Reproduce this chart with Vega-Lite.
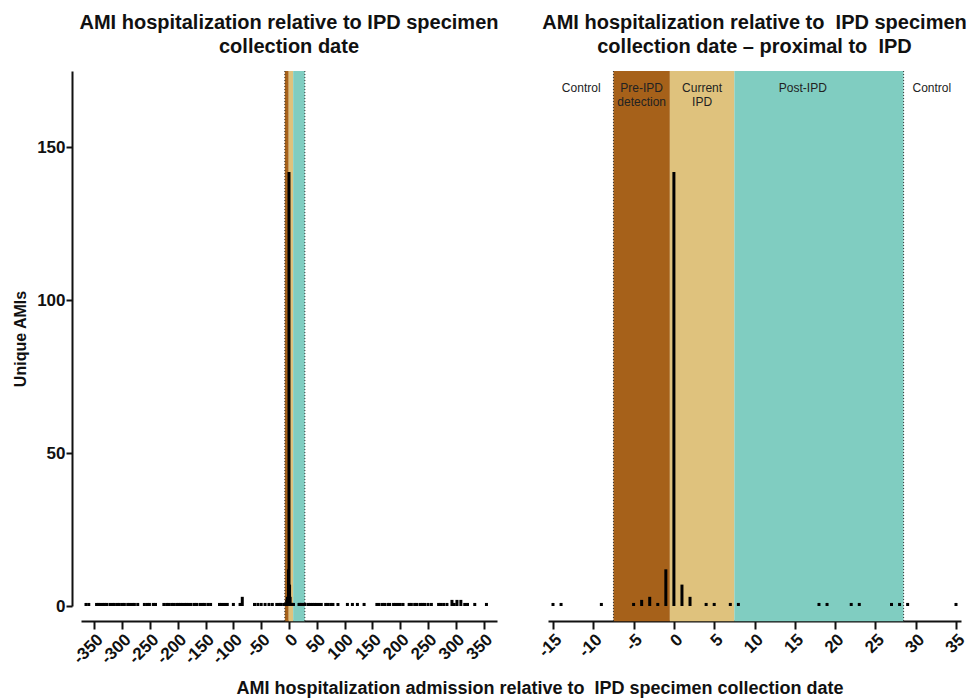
{
  "$schema": "https://vega.github.io/schema/vega-lite/v6.json",
  "background": "white",
  "padding": {"left": 12, "top": 12, "right": 0, "bottom": 2},
  "config": {
    "view": {"stroke": null},
    "font": "Liberation Sans",
    "title": {"font": "Liberation Sans", "fontWeight": "bold", "fontSize": 20, "color": "#111", "lineHeight": 24},
    "axis": {"domainColor": "#111", "domainWidth": 2, "tickColor": "#111", "tickWidth": 2, "tickSize": 8, "labelColor": "#111", "labelFont": "Liberation Sans", "labelFontWeight": "bold", "labelFontSize": 17, "titleFont": "Liberation Sans", "titleFontWeight": "bold", "titleColor": "#111", "grid": false, "labelExpr": "replace(datum.label, '\u2212', '-')"},
    "axisX": {"labelOverlap": false, "labelFlush": false, "labelBound": false, "labelSeparation": -60}
  },
  "datasets": {
    "counts": [
      {"day": -365, "n": 1}, {"day": -360, "n": 1}, {"day": -346, "n": 1}, {"day": -343, "n": 1}, {"day": -340, "n": 1}, {"day": -336, "n": 1}, {"day": -332, "n": 1}, {"day": -328, "n": 1}, {"day": -322, "n": 1}, {"day": -318, "n": 1}, {"day": -314, "n": 1}, {"day": -309, "n": 1}, {"day": -305, "n": 1}, {"day": -300, "n": 1}, {"day": -296, "n": 1}, {"day": -290, "n": 1}, {"day": -286, "n": 1}, {"day": -282, "n": 1}, {"day": -278, "n": 1}, {"day": -272, "n": 1}, {"day": -260, "n": 1}, {"day": -255, "n": 1}, {"day": -251, "n": 1}, {"day": -244, "n": 1}, {"day": -240, "n": 1}, {"day": -225, "n": 1}, {"day": -220, "n": 1}, {"day": -216, "n": 1}, {"day": -211, "n": 1}, {"day": -207, "n": 1}, {"day": -202, "n": 1}, {"day": -198, "n": 1}, {"day": -195, "n": 1}, {"day": -191, "n": 1}, {"day": -187, "n": 1}, {"day": -184, "n": 1}, {"day": -180, "n": 1}, {"day": -176, "n": 1}, {"day": -170, "n": 1}, {"day": -166, "n": 1}, {"day": -160, "n": 1}, {"day": -156, "n": 1}, {"day": -152, "n": 1}, {"day": -146, "n": 1}, {"day": -141, "n": 1}, {"day": -125, "n": 1}, {"day": -121, "n": 1}, {"day": -116, "n": 1}, {"day": -111, "n": 1}, {"day": -100, "n": 1}, {"day": -88, "n": 1}, {"day": -84, "n": 3}, {"day": -62, "n": 1}, {"day": -56, "n": 1}, {"day": -50, "n": 1}, {"day": -43, "n": 1}, {"day": -36, "n": 1}, {"day": -30, "n": 1}, {"day": -22, "n": 1}, {"day": -18, "n": 1},
      {"day": -15, "n": 1}, {"day": -14, "n": 1}, {"day": -9, "n": 1}, {"day": -5, "n": 1}, {"day": -4, "n": 2}, {"day": -3, "n": 3}, {"day": -2, "n": 1}, {"day": -1, "n": 12}, {"day": 0, "n": 142}, {"day": 1, "n": 7}, {"day": 2, "n": 3}, {"day": 4, "n": 1}, {"day": 5, "n": 1}, {"day": 7, "n": 1}, {"day": 8, "n": 1}, {"day": 18, "n": 1}, {"day": 19, "n": 1}, {"day": 22, "n": 1}, {"day": 23, "n": 1}, {"day": 27, "n": 1}, {"day": 28, "n": 1}, {"day": 29, "n": 1}, {"day": 35, "n": 1},
      {"day": 38, "n": 1}, {"day": 42, "n": 1}, {"day": 46, "n": 1}, {"day": 50, "n": 1}, {"day": 54, "n": 1}, {"day": 58, "n": 1}, {"day": 66, "n": 1}, {"day": 70, "n": 1}, {"day": 75, "n": 1}, {"day": 79, "n": 1}, {"day": 88, "n": 1}, {"day": 105, "n": 1}, {"day": 114, "n": 1}, {"day": 123, "n": 1}, {"day": 135, "n": 1}, {"day": 158, "n": 1}, {"day": 162, "n": 1}, {"day": 168, "n": 1}, {"day": 172, "n": 1}, {"day": 178, "n": 1}, {"day": 181, "n": 1}, {"day": 188, "n": 1}, {"day": 192, "n": 1}, {"day": 196, "n": 1}, {"day": 200, "n": 1}, {"day": 205, "n": 1}, {"day": 216, "n": 1}, {"day": 220, "n": 1}, {"day": 226, "n": 1}, {"day": 230, "n": 1}, {"day": 236, "n": 1}, {"day": 240, "n": 1}, {"day": 244, "n": 1}, {"day": 250, "n": 1}, {"day": 256, "n": 1}, {"day": 269, "n": 1}, {"day": 273, "n": 1}, {"day": 278, "n": 1}, {"day": 284, "n": 1}, {"day": 293, "n": 2}, {"day": 297, "n": 1}, {"day": 302, "n": 2}, {"day": 309, "n": 2}, {"day": 316, "n": 1}, {"day": 321, "n": 1}, {"day": 334, "n": 1}, {"day": 355, "n": 1}
    ],
    "bands": [
      {"band": "Pre-IPD detection", "start": -7.5, "end": -0.5},
      {"band": "Current IPD", "start": -0.5, "end": 7.5},
      {"band": "Post-IPD", "start": 7.5, "end": 28.5}
    ],
    "lines": [{"pos": -7.5}, {"pos": 28.5}],
    "labels": [
      {"x": -11.5, "label": "Control"},
      {"x": -4, "label": "Pre-IPD\ndetection"},
      {"x": 3.5, "label": "Current\nIPD"},
      {"x": 16, "label": "Post-IPD"},
      {"x": 32, "label": "Control"}
    ]
  },
  "title": {"text": "AMI hospitalization admission relative to\u00a0 IPD specimen collection date", "orient": "bottom", "fontSize": 18, "anchor": "middle", "offset": 14, "dx": 50},
  "spacing": 51,
  "bounds": "flush",
  "hconcat": [
    {
      "width": 416,
      "height": 535,
      "title": {"text": ["AMI hospitalization relative to IPD specimen", "collection date"], "offset": 14},
      "layer": [
        {
          "data": {"name": "bands"},
          "mark": {"type": "rect"},
          "encoding": {
            "x": {"field": "start", "type": "quantitative", "scale": {"domain": [-365, 365], "nice": false}, "axis": {"values": [-350, -300, -250, -200, -150, -100, -50, 0, 50, 100, 150, 200, 250, 300, 350], "labelAngle": -45, "offset": 15, "title": null, "labelOverlap": false, "labelFlush": false, "labelBound": false}},
            "x2": {"field": "end"},
            "y": {"datum": 175, "type": "quantitative"},
            "y2": {"datum": -5},
            "color": {"field": "band", "type": "nominal", "scale": {"domain": ["Pre-IPD detection", "Current IPD", "Post-IPD"], "range": ["#a6611a", "#dfc27d", "#80cdc1"]}, "legend": null}
          }
        },
        {
          "data": {"name": "lines"},
          "mark": {"type": "rule", "strokeDash": [1, 2], "color": "#333", "strokeWidth": 1},
          "encoding": {
            "x": {"field": "pos", "type": "quantitative", "axis": {"values": [-350, -300, -250, -200, -150, -100, -50, 0, 50, 100, 150, 200, 250, 300, 350], "labelAngle": -45, "offset": 15, "title": null, "labelOverlap": false, "labelFlush": false, "labelBound": false}},
            "y": {"datum": 175, "type": "quantitative"},
            "y2": {"datum": -5}
          }
        },
        {
          "data": {"name": "counts"},
          "mark": {"type": "bar", "size": 3, "color": "#000"},
          "encoding": {
            "x": {"field": "day", "type": "quantitative", "axis": {"values": [-350, -300, -250, -200, -150, -100, -50, 0, 50, 100, 150, 200, 250, 300, 350], "labelAngle": -45, "offset": 15, "title": null, "labelOverlap": false, "labelFlush": false, "labelBound": false}},
            "y": {"field": "n", "type": "quantitative", "scale": {"domain": [0, 175], "nice": false}, "axis": {"values": [0, 50, 100, 150], "offset": 9, "tickSize": 6, "labelPadding": 1, "labelFontSize": 17, "title": "Unique AMIs", "titleFontSize": 16, "titlePadding": 8}}
          }
        }
      ]
    },
    {
      "width": 413,
      "height": 535,
      "title": {"text": ["AMI hospitalization relative to\u00a0 IPD specimen", "collection date \u2013 proximal to\u00a0 IPD"], "offset": 14},
      "layer": [
        {
          "data": {"name": "bands"},
          "mark": {"type": "rect"},
          "encoding": {
            "x": {"field": "start", "type": "quantitative", "scale": {"domain": [-15, 35], "nice": false}, "axis": {"values": [-15, -10, -5, 0, 5, 10, 15, 20, 25, 30, 35], "labelAngle": -45, "offset": 15, "title": null, "labelOverlap": false, "labelFlush": false, "labelBound": false}},
            "x2": {"field": "end"},
            "y": {"datum": 175, "type": "quantitative", "scale": {"domain": [0, 175], "nice": false}, "axis": null},
            "y2": {"datum": -5},
            "color": {"field": "band", "type": "nominal", "scale": {"domain": ["Pre-IPD detection", "Current IPD", "Post-IPD"], "range": ["#a6611a", "#dfc27d", "#80cdc1"]}, "legend": null}
          }
        },
        {
          "data": {"name": "lines"},
          "mark": {"type": "rule", "strokeDash": [1, 2], "color": "#333", "strokeWidth": 1},
          "encoding": {
            "x": {"field": "pos", "type": "quantitative"},
            "y": {"datum": 175, "type": "quantitative"},
            "y2": {"datum": -5}
          }
        },
        {
          "data": {"name": "labels"},
          "mark": {"type": "text", "fontSize": 12, "color": "#222", "baseline": "top", "align": "center", "lineBreak": "\n", "lineHeight": 14},
          "encoding": {
            "x": {"field": "x", "type": "quantitative"},
            "y": {"datum": 171, "type": "quantitative"},
            "text": {"field": "label"}
          }
        },
        {
          "data": {"name": "counts"},
          "transform": [{"filter": {"field": "day", "range": [-15, 35]}}],
          "mark": {"type": "bar", "size": 3, "color": "#000"},
          "encoding": {
            "x": {"field": "day", "type": "quantitative"},
            "y": {"field": "n", "type": "quantitative"}
          }
        }
      ]
    }
  ]
}
